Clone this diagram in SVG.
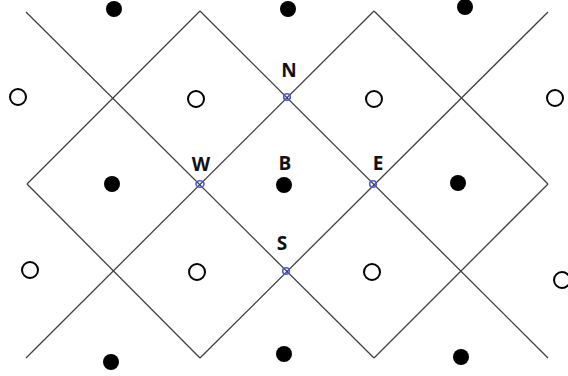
<svg xmlns="http://www.w3.org/2000/svg" width="568" height="376" viewBox="0 0 568 376">
<style>
.ln{stroke:#404040;stroke-width:1.3;fill:none}
.op{fill:#fff;stroke:#000;stroke-width:2}
.fl{fill:#000}
.mk{fill:none;stroke:#4a5ae0;stroke-width:1.6}
.lb{font-family:"Open Sans","Liberation Sans",sans-serif;font-weight:bold;font-size:19px;fill:#111;text-anchor:middle}
</style>
<rect width="568" height="376" fill="#fff"/>
<g id="connectors">
<line class="ln" x1="26" y1="12" x2="374" y2="358"/>
<line class="ln" x1="548" y1="12" x2="200" y2="358"/>
<line class="ln" x1="27" y1="184" x2="200" y2="11"/>
<line class="ln" x1="27" y1="184" x2="200" y2="358"/>
<line class="ln" x1="200" y1="11" x2="548" y2="358"/>
<line class="ln" x1="374" y1="11" x2="26" y2="358"/>
<line class="ln" x1="374" y1="11" x2="548" y2="184"/>
<line class="ln" x1="548" y1="184" x2="374" y2="358"/>
</g>
<g id="filled">
<circle class="fl" cx="114" cy="9" r="8"/>
<circle class="fl" cx="288" cy="9" r="8"/>
<circle class="fl" cx="465" cy="7" r="8"/>
<circle class="fl" cx="112" cy="184" r="8"/>
<circle id="B-dot" class="fl" cx="284" cy="185" r="8"/>
<circle class="fl" cx="458" cy="183" r="8"/>
<circle class="fl" cx="111" cy="362" r="8"/>
<circle class="fl" cx="284" cy="354" r="8"/>
<circle class="fl" cx="461" cy="357" r="8"/>
</g>
<g id="open">
<circle class="op" cx="18" cy="97" r="8"/>
<circle class="op" cx="196" cy="99" r="8"/>
<circle class="op" cx="374" cy="99" r="8"/>
<circle class="op" cx="555" cy="98" r="8"/>
<circle class="op" cx="30" cy="270" r="8"/>
<circle class="op" cx="197" cy="272" r="8"/>
<circle class="op" cx="372" cy="272" r="8"/>
<circle class="op" cx="562" cy="280" r="8"/>
</g>
<g id="N"><circle class="mk" cx="287" cy="97" r="3.3"/><text class="lb" x="289" y="77">N</text></g>
<g id="W"><ellipse class="mk" cx="200" cy="184" rx="4" ry="3.3"/><text class="lb" x="201" y="171">W</text></g>
<g id="E"><circle class="mk" cx="373" cy="184" r="3.3"/><text class="lb" x="378" y="170">E</text></g>
<g id="S"><circle class="mk" cx="286" cy="271" r="3.3"/><text class="lb" x="282" y="250">S</text></g>
<g id="B"><text class="lb" x="285" y="170">B</text></g>
</svg>
